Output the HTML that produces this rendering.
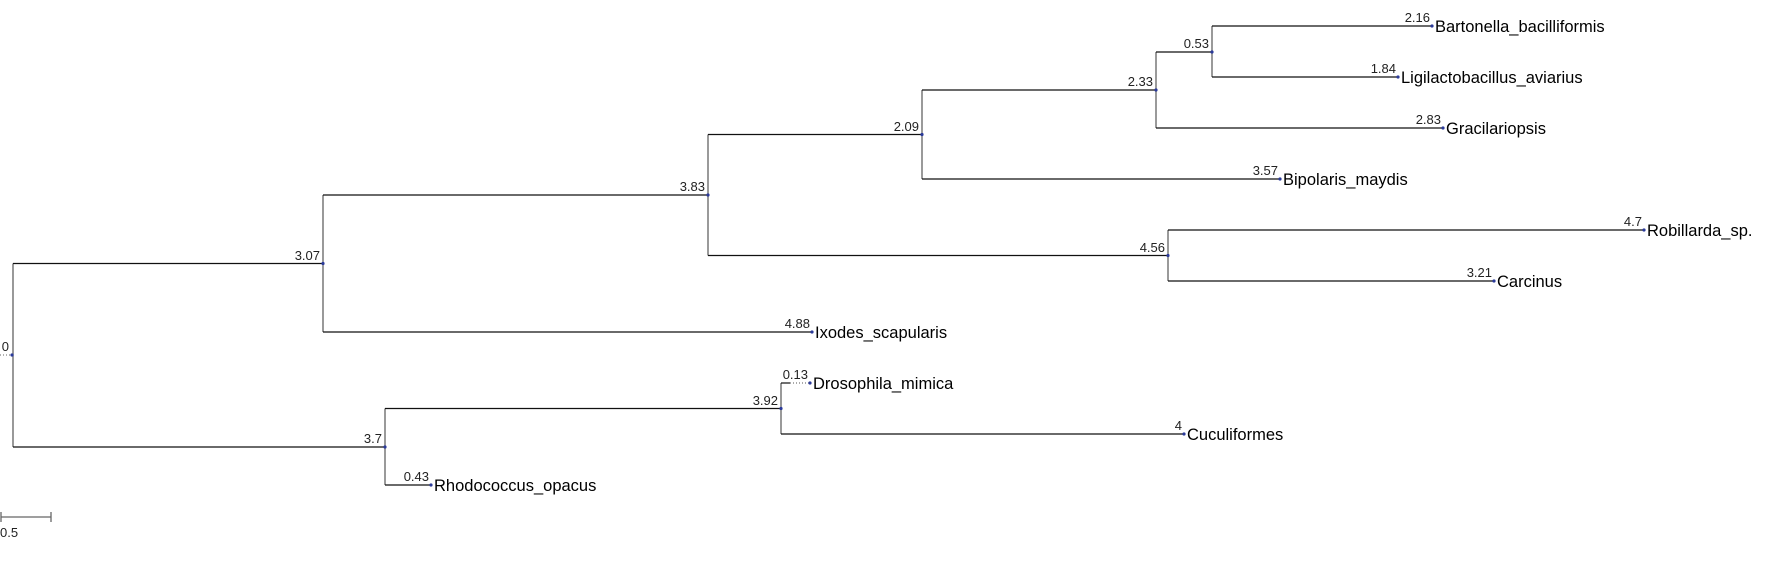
<!DOCTYPE html>
<html><head><meta charset="utf-8"><style>
html,body{margin:0;padding:0;background:#fff;}
svg{display:block;}
.v{stroke:#6e6e6e;stroke-width:1.4;fill:none}
.h{stroke:#111;stroke-width:1.2;fill:none}
.n{font-family:"Liberation Sans",sans-serif;font-size:13px;fill:#222;text-anchor:end}
.t{font-family:"Liberation Sans",sans-serif;font-size:16.5px;fill:#000}
circle{fill:#2b3a9a}
</style></head><body>
<svg width="1768" height="562" viewBox="0 0 1768 562" xmlns="http://www.w3.org/2000/svg">
<!-- root -->
<line class="v" x1="13" y1="263.5" x2="13" y2="447"/>
<line class="h" x1="13" y1="263.5" x2="323" y2="263.5"/>
<line class="h" x1="13" y1="447" x2="385" y2="447"/>
<line x1="0" y1="355" x2="12" y2="355" stroke="#666" stroke-dasharray="1,2"/>
<circle cx="12" cy="355" r="1.6"/><text class="n" x="9" y="351">0</text>
<!-- 3.07 -->
<line class="v" x1="323" y1="195" x2="323" y2="332"/>
<line class="h" x1="323" y1="195" x2="708" y2="195"/>
<line class="h" x1="323" y1="332" x2="812" y2="332"/>
<circle cx="323" cy="263.5" r="1.6"/><text class="n" x="320" y="260">3.07</text>
<!-- 3.83 -->
<line class="v" x1="708" y1="134.5" x2="708" y2="255.5"/>
<line class="h" x1="708" y1="134.5" x2="922" y2="134.5"/>
<line class="h" x1="708" y1="255.5" x2="1168" y2="255.5"/>
<circle cx="708" cy="195" r="1.6"/><text class="n" x="705" y="191">3.83</text>
<!-- 2.09 -->
<line class="v" x1="922" y1="90" x2="922" y2="179"/>
<line class="h" x1="922" y1="90" x2="1156" y2="90"/>
<line class="h" x1="922" y1="179" x2="1280" y2="179"/>
<circle cx="922" cy="134.5" r="1.6"/><text class="n" x="919" y="131">2.09</text>
<!-- 2.33 -->
<line class="v" x1="1156" y1="52" x2="1156" y2="128"/>
<line class="h" x1="1156" y1="52" x2="1212" y2="52"/>
<line class="h" x1="1156" y1="128" x2="1443" y2="128"/>
<circle cx="1156" cy="90" r="1.6"/><text class="n" x="1153" y="86">2.33</text>
<!-- 0.53 -->
<line class="v" x1="1212" y1="26" x2="1212" y2="77"/>
<line class="h" x1="1212" y1="26" x2="1432" y2="26"/>
<line class="h" x1="1212" y1="77" x2="1398" y2="77"/>
<circle cx="1212" cy="52" r="1.6"/><text class="n" x="1209" y="48">0.53</text>
<!-- 4.56 -->
<line class="v" x1="1168" y1="230" x2="1168" y2="281"/>
<line class="h" x1="1168" y1="230" x2="1644" y2="230"/>
<line class="h" x1="1168" y1="281" x2="1494" y2="281"/>
<circle cx="1168" cy="255.5" r="1.6"/><text class="n" x="1165" y="252">4.56</text>
<!-- 3.7 -->
<line class="v" x1="385" y1="408.5" x2="385" y2="485"/>
<line class="h" x1="385" y1="408.5" x2="781" y2="408.5"/>
<line class="h" x1="385" y1="485" x2="431" y2="485"/>
<circle cx="385" cy="447" r="1.6"/><text class="n" x="382" y="443">3.7</text>
<!-- 3.92 -->
<line class="v" x1="781" y1="383" x2="781" y2="434"/>
<line class="h" x1="781" y1="383" x2="790" y2="383"/>
<line x1="790" y1="383" x2="810" y2="383" stroke="#555" stroke-dasharray="1,2"/>
<line class="h" x1="781" y1="434" x2="1184" y2="434"/>
<circle cx="781" cy="408.5" r="1.6"/><text class="n" x="778" y="405">3.92</text>
<!-- tips -->
<circle cx="1432" cy="26" r="1.6"/><text class="n" x="1430" y="22">2.16</text><text class="t" x="1435" y="32">Bartonella_bacilliformis</text>
<circle cx="1398" cy="77" r="1.6"/><text class="n" x="1396" y="73">1.84</text><text class="t" x="1401" y="83">Ligilactobacillus_aviarius</text>
<circle cx="1443" cy="128" r="1.6"/><text class="n" x="1441" y="124">2.83</text><text class="t" x="1446" y="134">Gracilariopsis</text>
<circle cx="1280" cy="179" r="1.6"/><text class="n" x="1278" y="175">3.57</text><text class="t" x="1283" y="185">Bipolaris_maydis</text>
<circle cx="1644" cy="230" r="1.6"/><text class="n" x="1642" y="226">4.7</text><text class="t" x="1647" y="236">Robillarda_sp.</text>
<circle cx="1494" cy="281" r="1.6"/><text class="n" x="1492" y="277">3.21</text><text class="t" x="1497" y="287">Carcinus</text>
<circle cx="812" cy="332" r="1.6"/><text class="n" x="810" y="328">4.88</text><text class="t" x="815" y="338">Ixodes_scapularis</text>
<circle cx="810" cy="383" r="1.6"/><text class="n" x="808" y="379">0.13</text><text class="t" x="813" y="389">Drosophila_mimica</text>
<circle cx="1184" cy="434" r="1.6"/><text class="n" x="1182" y="430">4</text><text class="t" x="1187" y="440">Cuculiformes</text>
<circle cx="431" cy="485" r="1.6"/><text class="n" x="429" y="481">0.43</text><text class="t" x="434" y="491">Rhodococcus_opacus</text>
<!-- scale bar -->
<line x1="1" y1="517" x2="51" y2="517" stroke="#666" stroke-width="1.3"/>
<line x1="1" y1="512" x2="1" y2="522" stroke="#666" stroke-width="1.3"/>
<line x1="51" y1="512" x2="51" y2="522" stroke="#666" stroke-width="1.3"/>
<text class="n" x="0" y="537" style="text-anchor:start">0.5</text>
</svg>
</body></html>
